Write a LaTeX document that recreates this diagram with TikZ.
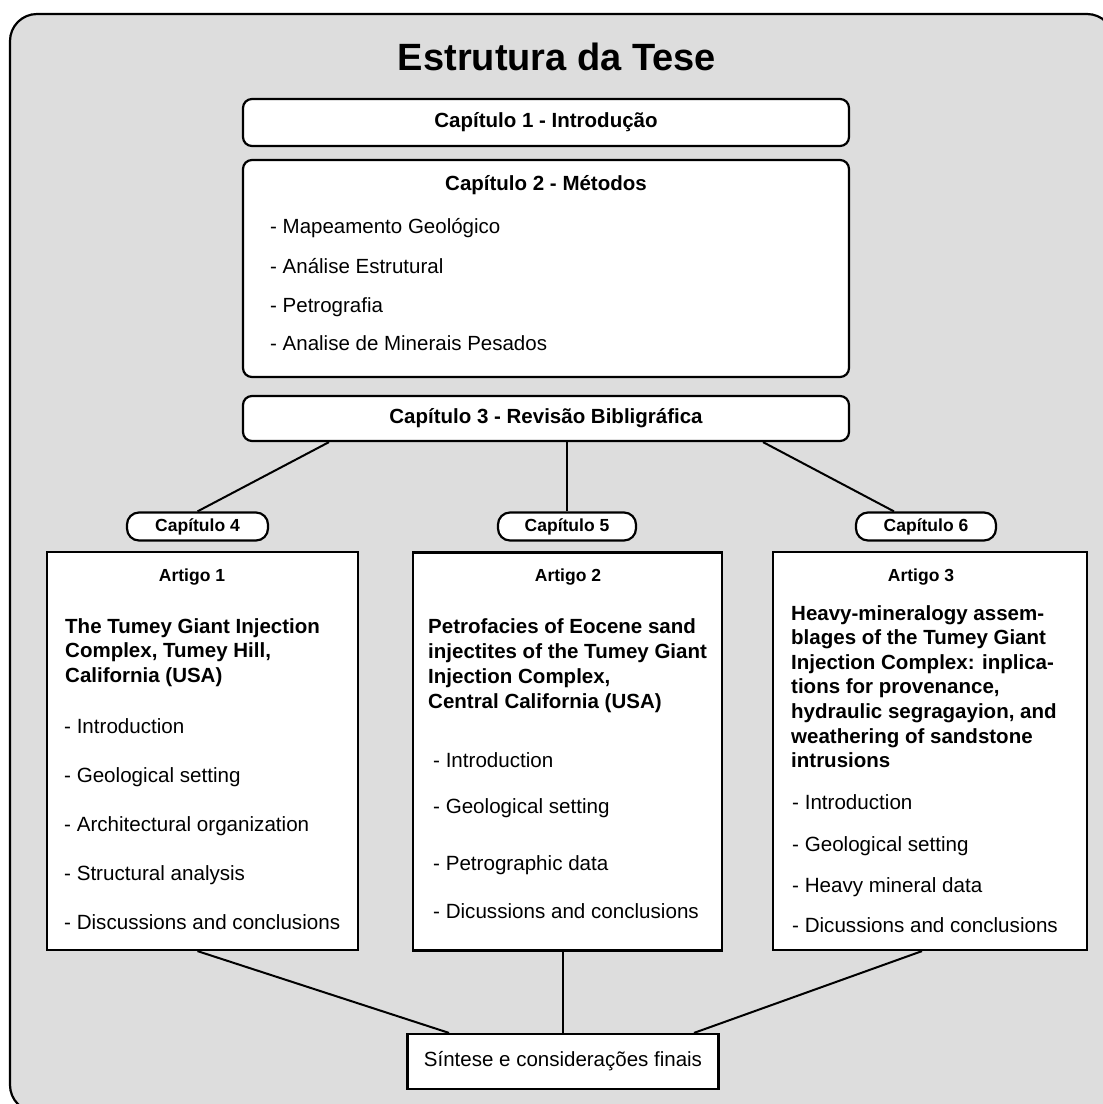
\documentclass[tikz,border=0pt]{standalone}
\usepackage{fontspec}
\setmainfont{Liberation Sans}
\usepackage{xcolor}
\usetikzlibrary{calc, positioning}

\definecolor{bggray}{RGB}{221,221,221}

\tikzset{
  chapbox/.style={draw, line width=2.2pt, rounded corners=9pt, fill=white,
    minimum width=606pt, font=\bfseries\fontsize{20.5}{24}\selectfont},
  pillbox/.style={draw, line width=2.2pt, rounded corners=12pt, fill=white,
    minimum height=28pt, font=\bfseries\fontsize{17.5}{20}\selectfont},
  artbox/.style={draw, line width=2.2pt, fill=white, minimum height=398pt},
  hd/.style={anchor=base, inner sep=0pt, font=\bfseries\fontsize{17.5}{20}\selectfont},
  ttl/.style={anchor=base west, inner sep=0pt, font=\bfseries\fontsize{20.5}{24.5}\selectfont},
  itm/.style={anchor=base west, inner sep=0pt, font=\fontsize{20.6}{25}\selectfont},
  link/.style={line width=2pt},
}

\begin{document}
\begin{tikzpicture}[x=1pt,y=-1pt]
  \useasboundingbox (0,0) rectangle (1103,1104);
  \clip (0,0) rectangle (1103,1104);

  % frame and title
  \draw[line width=2.2pt, fill=bggray, rounded corners=27pt] (10,14) rectangle (1114,1112);
  \node[font=\bfseries\fontsize{38}{44}\selectfont] (title) at (557,57) {Estrutura da Tese};

  % chapters 1-3
  \node[chapbox, minimum height=47pt] (cap1) at (546,122.5) {Capítulo 1 - Introdução};
  \node[chapbox, minimum height=217pt] (cap2) at (546,268.5) {};
  \node[hd, font=\bfseries\fontsize{20.5}{24}\selectfont] (cap2t) at (546,190) {Capítulo 2 - Métodos};
  \foreach \t/\yy in {Mapeamento Geológico/233, Análise Estrutural/273,
                      Petrografia/312, Analise de Minerais Pesados/350}{
    \node[itm, font=\fontsize{20.5}{24}\selectfont] at (270,\yy) {- \t};
  }
  \node[chapbox, minimum height=45pt] (cap3) at (546,418.5) {Capítulo 3 - Revisão Bibligráfica};

  % chapters 4-6
  \node[pillbox, minimum width=141pt] (cap4) at (197.5,526.5) {Capítulo 4};
  \node[pillbox, minimum width=138pt] (cap5) at (567,526.5) {Capítulo 5};
  \node[pillbox, minimum width=140pt] (cap6) at (926,526.5) {Capítulo 6};

  \node[artbox, minimum width=311pt] (art1) at (202.5,751) {};
  \node[artbox, minimum width=309pt] (art2) at (567.5,751.5) {};
  \node[artbox, minimum width=314pt] (art3) at (930,751) {};

  \node[hd] at (192,581) {Artigo 1};
  \node[hd] at (568,581) {Artigo 2};
  \node[hd] at (921,581) {Artigo 3};

  % article 1
  \foreach \t [count=\k] in {The Tumey Giant Injection, {Complex, Tumey Hill,},
                             California (USA)}{
    \node[ttl] at (65,{633+24.5*(\k-1)}) {\t};
  }
  \foreach \t [count=\k] in {Introduction, Geological setting, Architectural organization,
                             Structural analysis, Discussions and conclusions}{
    \node[itm] at (64,{733+49.2*(\k-1)}) {- \t};
  }

  % article 2
  \foreach \t [count=\k] in {Petrofacies of Eocene sand, injectites of the Tumey Giant,
                             {Injection Complex,}, Central California (USA)}{
    \node[ttl] at (428,{633+25*(\k-1)}) {\t};
  }
  \foreach \t/\yy in {Introduction/767, Geological setting/813,
                      Petrographic data/870, Dicussions and conclusions/918}{
    \node[itm] at (433,\yy) {- \t};
  }

  % article 3
  \foreach \t [count=\k] in {Heavy-mineralogy assem-, blages of the Tumey Giant,
                             Injection Complex: inplica-, {tions for provenance,},
                             {hydraulic segragayion, and}, weathering of sandstone,
                             intrusions}{
    \node[ttl] at (791,{620+24.6*(\k-1)}) {\t};
  }
  \foreach \t/\yy in {Introduction/809, Geological setting/851,
                      Heavy mineral data/892, Dicussions and conclusions/932}{
    \node[itm] at (792,\yy) {- \t};
  }

  % synthesis
  \node[draw, line width=2.2pt, fill=white, minimum width=311pt, minimum height=55pt,
        font=\fontsize{20.5}{24}\selectfont] (sint) at (563,1061.5) {Síntese e considerações finais};

  % connectors
  \draw[link] ([xshift=-217pt]cap3.south) -- (cap4.north);
  \draw[link] (cap5.north |- cap3.south) -- (cap5.north);
  \draw[link] ([xshift=217pt]cap3.south) -- ([xshift=-32pt]cap6.north);
  \draw[link] ([xshift=-5pt]art1.south) -- ([xshift=-114pt]sint.north);
  \draw[link] (sint.north |- art2.south) -- (sint.north);
  \draw[link] ([xshift=-8pt]art3.south) -- ([xshift=131pt]sint.north);
\end{tikzpicture}
\end{document}
